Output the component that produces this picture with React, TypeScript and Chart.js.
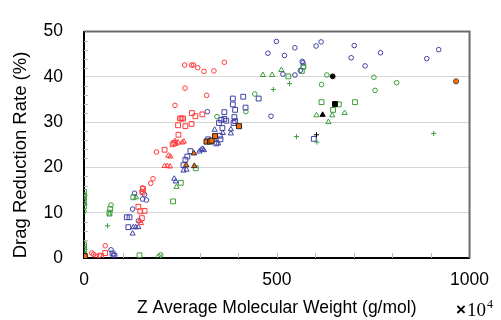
import React, { useEffect, useRef } from 'react';
import { Chart, registerables } from 'chart.js';
Chart.register(...registerables);

const FONT = "'Liberation Sans', Arial, sans-serif";
const SERIF = "'Liberation Serif', 'DejaVu Serif', serif";

const RED = '#ff3b3b';
const BLUE = '#4040a8';
const GREEN = '#3a9e3a';
const ORANGE = '#ff6a00';

const xTickLabels = [0, 500, 1000];
const yTickLabels = [0, 10, 20, 30, 40, 50];
const yTitle = 'Drag Reduction Rate (%)';
const xTitle = 'Z Average Molecular Weight (g/mol)';

const redCircles = [[261,42.6],[279,42.6],[284,42.6],[295,42.0],[311,41.2],[337,41.3],[364,43.2],[262,37.5],[318,35.9],[236,33.7],[188,23.4],[179,17.5],[173,16.5],[152,15.5],[150,14.7],[55,2.7],[20,1.1],[25,0.8],[31,0.4],[40,0.6]];
const redSquares = [[249,30.8],[253,30.8],[257,30.8],[280,32.0],[289,31.3],[307,31.7],[279,29.6],[244,29.3],[263,29.1],[245,27.2],[230,25.1],[234,25.4],[209,23.9],[153,15.2],[152,14.5],[141,11.3],[146,10.3],[157,10.4],[150,8.8],[55,1.1],[44,0.4]];
const redTriangles = [[236,25.8],[238,25.2],[244,25.5],[255,25.5],[259,25.7],[219,22.6],[224,22.4],[209,20.3],[216,20.3],[223,20.2],[145,8.2],[148,7.7]];

const blueCircles = [[499,47.8],[615,47.7],[602,46.8],[547,46.4],[477,45.2],[520,44.7],[566,43.4],[568,43.1],[561,41.4],[516,40.6],[547,40.4],[701,46.9],[693,44.2],[729,42.4],[769,45.3],[920,46.0],[889,44.0],[485,31.3],[320,32.3],[131,14.3],[126,10.8],[157,14.0],[162,12.8],[152,13.0],[141,8.2],[70,1.8],[77,0.7]];
const blueSquares = [[386,35.2],[413,35.6],[453,35.2],[386,33.9],[419,33.2],[392,32.7],[364,32.2],[390,31.1],[392,30.2],[364,30.7],[369,30.3],[356,30.5],[350,29.8],[388,29.8],[359,28.7],[352,27.0],[354,26.2],[343,25.3],[322,26.2],[276,23.6],[268,22.4],[263,21.7],[258,20.5],[111,9.0],[118,9.0],[115,6.8],[596,26.3],[74,1.0],[79,0.5]];
const blueTriangles = [[339,28.3],[381,28.4],[381,27.5],[360,27.6],[339,26.0],[348,25.3],[304,23.9],[308,24.1],[299,23.5],[311,23.8],[258,19.3],[266,19.5],[234,17.5],[238,16.9],[128,6.8],[134,6.8],[141,6.8],[126,5.4]];

const greenCircles = [[569,42.1],[630,40.4],[616,38.3],[443,36.2],[420,32.3],[345,31.2],[752,39.9],[811,38.7],[755,37.0],[0,14.0],[0,13.0],[0,12.0],[0,10.3],[0,1.0],[0,0.3],[70,11.7],[194,0.3],[199,0.7]];
const greenSquares = [[565,41.3],[569,42.3],[530,40.1],[616,34.4],[661,33.9],[646,32.7],[703,34.4],[290,19.8],[251,16.6],[231,12.5],[128,13.4],[0,14.6],[0,13.5],[0,12.6],[0,11.4],[0,3.0],[0,2.4],[0,1.8],[0,1.4],[66,10.0],[68,10.8],[144,0.6]];
const greenTriangles = [[464,40.4],[488,40.4],[512,41.5],[603,31.5],[644,31.5],[676,32.0],[634,30.0],[240,15.7],[135,13.4],[66,9.6]];
const greenPlus = [[533,38.5],[491,37.2],[551,26.8],[604,25.6],[907,27.5],[61,7.1]];

const blackCircles = [[645,40.1]];
const blackSquares = [[651,34.0]];
const blackTriangles = [[619,31.6]];
const blackPlus = [[603,27.2]];

const orangeSquares = [[318,25.7],[327,25.7],[331,25.9],[340,26.9],[402,29.1],[2,0.4]];
const orangeTriangles = [[285,23.1],[265,20.5],[286,20.3]];
const orangeCircles = [[965,39.0]];

const pts = (a: number[][]) => a.map(([x, y]) => ({ x, y }));

function ds(label: string, data: number[][], style: string, color: string, radius: number, bg = 'rgba(0,0,0,0)') {
  return {
    label,
    data: pts(data),
    pointStyle: style,
    pointRadius: radius,
    pointBorderColor: color,
    pointBackgroundColor: bg,
    borderColor: color,
    backgroundColor: bg,
    pointBorderWidth: 1,
    showLine: false,
  };
}

const decor = {
  id: 'decor',
  beforeDatasetsDraw(chart: any) {
    const { ctx, chartArea: a, scales } = chart;
    const xs = scales.x, ys = scales.y;
    ctx.save();
    ctx.strokeStyle = '#b8b8b8';
    ctx.lineWidth = 1;
    for (let v = 100; v < 1000; v += 100) {
      const px = Math.round(xs.getPixelForValue(v)) + 0.5;
      ctx.beginPath();
      ctx.moveTo(px, a.bottom);
      ctx.lineTo(px, a.bottom - 5);
      ctx.stroke();
    }
    for (let v = 2; v < 50; v += 2) {
      if (v % 10 === 0) continue;
      const py = Math.round(ys.getPixelForValue(v)) + 0.5;
      ctx.beginPath();
      ctx.moveTo(a.left, py);
      ctx.lineTo(a.left + 4, py);
      ctx.stroke();
    }
    ctx.strokeStyle = '#6a6a6a';
    ctx.lineWidth = 2;
    ctx.beginPath();
    ctx.moveTo(a.left, a.top);
    ctx.lineTo(a.right, a.top);
    ctx.lineTo(a.right, a.bottom);
    ctx.stroke();
    ctx.restore();
  },
  afterDraw(chart: any) {
    const { ctx } = chart;
    ctx.save();
    ctx.fillStyle = '#000';
    // y axis title
    ctx.save();
    ctx.translate(21, 155);
    ctx.rotate(-Math.PI / 2);
    ctx.textAlign = 'center';
    ctx.textBaseline = 'middle';
    ctx.font = `18.5px ${FONT}`;
    ctx.fillText(yTitle, 0, 0);
    ctx.restore();
    // multiplier
    ctx.textBaseline = 'alphabetic';
    ctx.textAlign = 'left';
    ctx.font = `bold 17px ${FONT}`;
    ctx.fillText('\u00d7', 456, 315);
    ctx.font = `19px ${SERIF}`;
    ctx.fillText('10', 467, 316);
    ctx.font = `12px ${SERIF}`;
    ctx.fillText('4', 487, 308);
    ctx.restore();
  },
};

export default function App() {
  const ref = useRef<HTMLCanvasElement>(null);
  useEffect(() => {
    if (!ref.current) return;
    const chart = new Chart(ref.current, {
      type: 'scatter',
      data: {
        datasets: [
          ds('orange squares', orangeSquares, 'rect', '#222', 3.6, ORANGE),
          ds('orange triangles', orangeTriangles, 'triangle', '#333', 3.2, ORANGE),
          ds('orange circles', orangeCircles, 'circle', '#555', 2.6, ORANGE),
          ds('black circles', blackCircles, 'circle', '#000', 2.4, '#000'),
          ds('black squares', blackSquares, 'rect', '#000', 3.4, '#000'),
          ds('black triangles', blackTriangles, 'triangle', '#000', 3.0, '#000'),
          ds('black plus', blackPlus, 'cross', '#000', 2.6),
          ds('red circles', redCircles, 'circle', RED, 2.3),
          ds('red squares', redSquares, 'rect', RED, 3.4),
          ds('red triangles', redTriangles, 'triangle', RED, 3.0),
          ds('blue circles', blueCircles, 'circle', BLUE, 2.3),
          ds('blue squares', blueSquares, 'rect', BLUE, 3.4),
          ds('blue triangles', blueTriangles, 'triangle', BLUE, 3.0),
          ds('green circles', greenCircles, 'circle', GREEN, 2.3),
          ds('green squares', greenSquares, 'rect', GREEN, 3.4),
          ds('green triangles', greenTriangles, 'triangle', GREEN, 3.0),
          ds('green plus', greenPlus, 'cross', GREEN, 2.6),
        ] as any,
      },
      options: {
        responsive: false,
        maintainAspectRatio: false,
        animation: false,
        layout: { padding: { top: 15, right: 22, left: 0, bottom: 0 } },
        plugins: { legend: { display: false }, tooltip: { enabled: false } },
        scales: {
          x: {
            type: 'linear',
            min: xTickLabels[0],
            max: xTickLabels[xTickLabels.length - 1],
            afterBuildTicks: (s: any) => { s.ticks = xTickLabels.map((v) => ({ value: v })); },
            ticks: {
              font: { family: FONT, size: 17.5 },
              color: '#000',
              padding: 12,
              maxRotation: 0,
              callback: (v: any) => String(v),
            },
            grid: { drawOnChartArea: false, drawTicks: false },
            border: { display: true, color: '#000', width: 2 },
            title: {
              display: true,
              text: xTitle,
              font: { family: FONT, size: 17.5 },
              color: '#000',
              padding: { top: 0, bottom: 1 },
            },
            afterFit: (s: any) => { s.height = 62; },
          },
          y: {
            type: 'linear',
            min: yTickLabels[0],
            max: yTickLabels[yTickLabels.length - 1],
            afterBuildTicks: (s: any) => { s.ticks = yTickLabels.map((v) => ({ value: v })); },
            ticks: { font: { family: FONT, size: 17.5 }, color: '#000', padding: 21, callback: (v: any) => String(v) },
            grid: {
              drawTicks: false,
              color: (c: any) => (c.tick && c.tick.value > 0 && c.tick.value < 50 ? '#d6d6d6' : 'rgba(0,0,0,0)'),
              lineWidth: 1,
            },
            border: { display: true, color: '#000', width: 2 },
            title: { display: false },
            afterFit: (s: any) => { s.width = 84; },
          },
        },
      } as any,
      plugins: [decor],
    });
    return () => chart.destroy();
  }, []);
  return (
    <div style={{ position: 'fixed', left: 0, top: 0, width: 501, height: 320, background: '#fff' }}>
      <canvas ref={ref} width={501} height={320} style={{ display: 'block' }} />
    </div>
  );
}
